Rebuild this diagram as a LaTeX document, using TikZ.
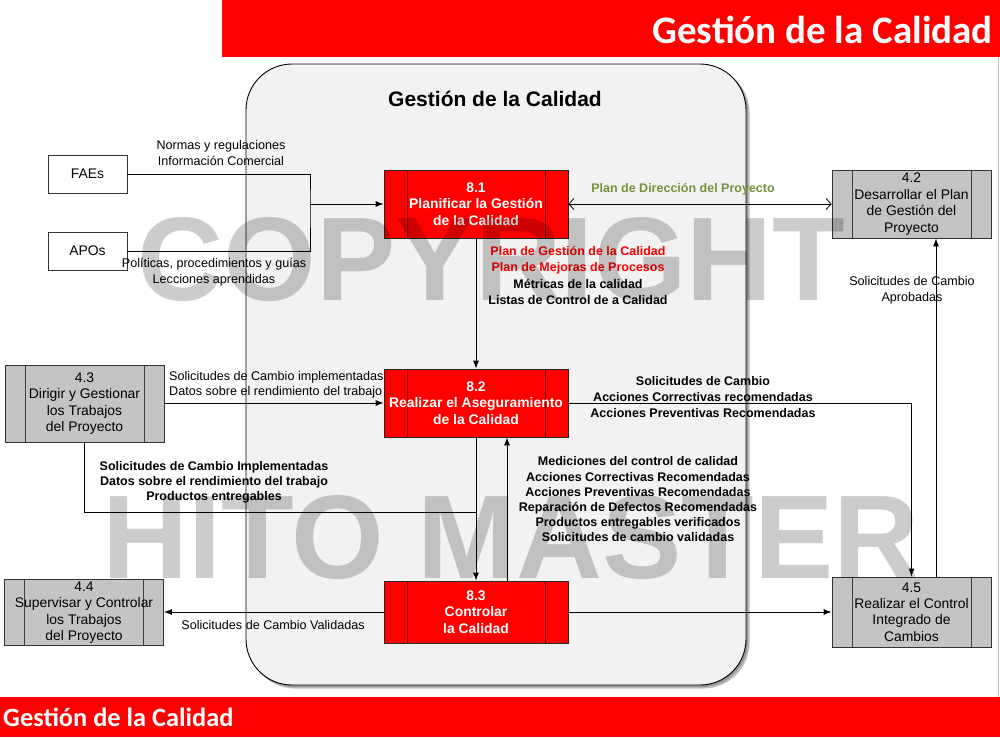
\documentclass[tikz,border=0pt]{standalone}
\usepackage{fontspec}
\setmainfont{Liberation Sans}
\newfontfamily\hdrfont{Carlito}
\usetikzlibrary{arrows.meta}
\definecolor{boxgray}{RGB}{196,196,196}
\definecolor{bggray}{RGB}{242,242,242}
\definecolor{olivegreen}{RGB}{118,146,60}
\definecolor{darkred}{RGB}{110,0,0}
\tikzset{
  redproc/.style={draw=black!85, fill=red, minimum width=184pt, minimum height=68pt, inner sep=0pt,
    align=center, text=white, font=\bfseries\fontsize{13.9}{16.5}\selectfont, line width=0.8pt,
    path picture={\draw[darkred, line width=0.9pt]
      ([xshift=23pt]path picture bounding box.north west) -- ([xshift=23pt]path picture bounding box.south west)
      ([xshift=-23pt]path picture bounding box.north east) -- ([xshift=-23pt]path picture bounding box.south east);}},
  grayproc/.style={draw=black!80, fill=boxgray, minimum width=159pt, inner sep=0pt,
    align=center, font=\fontsize{13.9}{16.4}\selectfont, line width=0.8pt,
    path picture={\draw[black!75, line width=0.8pt]
      ([xshift=20pt]path picture bounding box.north west) -- ([xshift=20pt]path picture bounding box.south west)
      ([xshift=-20pt]path picture bounding box.north east) -- ([xshift=-20pt]path picture bounding box.south east);}},
  extbox/.style={draw=black!80, fill=white, minimum width=79pt, minimum height=38pt, inner sep=0pt,
    font=\fontsize{13.9}{16}\selectfont, line width=0.8pt},
  lbl/.style={font=\fontsize{12.6}{16}\selectfont, align=center, inner sep=0pt},
  blbl/.style={font=\bfseries\fontsize{12.5}{15.2}\selectfont, align=center, inner sep=0pt},
  conn/.style={line width=0.8pt, draw=black},
  flow/.style={conn, -{Latex[length=8pt,width=6pt]}},
  wmark/.style={font=\bfseries\fontsize{119}{119}\selectfont, text=black, text opacity=0.2, inner sep=0pt},
}
\begin{document}
\begin{tikzpicture}[x=1pt,y=-1pt]
\useasboundingbox (0,0) rectangle (1000,737);
\fill[white] (0,0) rectangle (1000,737);
% header and footer bars
\fill[red] (222,0) rectangle (1000,57);
\fill[red] (0,697) rectangle (1000,737);
\draw[black!25, line width=0.8pt] (998.5,57) -- (998.5,697);
\node[font=\hdrfont\bfseries\fontsize{39}{40}\selectfont, text=white, anchor=base east, inner sep=0pt] (hdr) at (993,43) {Gestión de la Calidad};
\node[font=\hdrfont\bfseries\fontsize{26.4}{28}\selectfont, text=white, anchor=base west, inner sep=0pt] (ftr) at (3,726) {Gestión de la Calidad};
% big rounded container with shadow
\fill[black, opacity=0.25, rounded corners=46pt] (249,67) rectangle (749.5,688.5);
\fill[black, opacity=0.2, rounded corners=46pt] (247.5,65.5) rectangle (748,687);
\draw[line width=0.9pt, fill=bggray, rounded corners=46pt] (246,64) rectangle (746,685);
\node[font=\bfseries\fontsize{21}{24}\selectfont, inner sep=0pt] (title) at (495,99) {Gestión de la Calidad};
% external boxes
\node[extbox] (faes) at (87.5,174) {FAEs};
\node[extbox] (apos) at (87.5,251) {APOs};
% process boxes
\node[redproc] (p81) at (476,204) {8.1\\Planificar la Gestión\\de la Calidad};
\node[redproc] (p82) at (476,403) {8.2\\Realizar el Aseguramiento\\de la Calidad};
\node[redproc, minimum height=62pt] (p83) at (476,612) {8.3\\Controlar\\la Calidad};
\node[grayproc, minimum height=68pt] (p42) at (911.5,204) {4.2\\Desarrollar el Plan\\de Gestión del\\Proyecto};
\node[grayproc, minimum height=77pt] (p43) at (84.5,403.5) {4.3\\Dirigir y Gestionar\\los Trabajos\\del Proyecto};
\node[grayproc, minimum height=66pt] (p44) at (84,612.5) {4.4\\Supervisar y Controlar\\los Trabajos\\del Proyecto};
\node[grayproc, minimum height=70pt] (p45) at (911.5,612) {4.5\\Realizar el Control\\Integrado de\\Cambios};
% connectors
\coordinate (j1) at (310,204);
\coordinate (j2) at (476,512);
\draw[conn] (faes.east) -| (j1) |- (apos.east);
\draw[flow] (j1) -- (p81.west);
\draw[conn, {Straight Barb[length=5pt,width=11pt]}-{Straight Barb[length=5pt,width=11pt]}] (p81.east) -- (p42.west);
\draw[flow] (p81.south) -- (p82.north);
\draw[flow] (p43.east |- p82.west) -- (p82.west);
\draw[conn] (p43.south) |- (j2);
\draw[flow] (p82.south) -- (p83.north);
\draw[flow] ([xshift=31pt]p83.north) -- ([xshift=31pt]p82.south);
\draw[flow] (p82.east) -| (p45.north);
\draw[flow] ([xshift=24.5pt]p45.north) -- ([xshift=24.5pt]p42.south);
\draw[flow] (p83.west) -- (p44.east |- p83.west);
\draw[flow] (p83.east) -- (p45.west |- p83.east);
% labels
\node[lbl] (l1) at (221,153) {Normas y regulaciones\\Información Comercial};
\node[lbl] (l2) at (214,272) {Políticas, procedimientos y guías\\Lecciones aprendidas};
\node[blbl, text=olivegreen] (l3) at (683,189) {Plan de Dirección del Proyecto};
\node[blbl, font=\bfseries\fontsize{12.5}{16.3}\selectfont] (l4) at (578,275.5) {\textcolor{red}{Plan de Gestión de la Calidad}\\\textcolor{red}{Plan de Mejoras de Procesos}\\Métricas de la calidad\\Listas de Control de a Calidad};
\node[lbl] (l5) at (912,290) {Solicitudes de Cambio\\Aprobadas};
\node[lbl, align=left, anchor=west, font=\fontsize{12.6}{15.5}\selectfont] (l6) at (169,384.5) {Solicitudes de Cambio implementadas\\Datos sobre el rendimiento del trabajo};
\node[blbl] (l7) at (214,482) {Solicitudes de Cambio Implementadas\\Datos sobre el rendimiento del trabajo\\Productos entregables};
\node[blbl, font=\bfseries\fontsize{12.5}{16}\selectfont] (l8) at (703,397) {Solicitudes de Cambio\\Acciones Correctivas recomendadas\\Acciones Preventivas Recomendadas};
\node[blbl] (l9) at (638,499.5) {Mediciones del control de calidad\\Acciones Correctivas Recomendadas\\Acciones Preventivas Recomendadas\\Reparación de Defectos Recomendadas\\Productos entregables verificados\\Solicitudes de cambio validadas};
\node[lbl] (l10) at (273,625) {Solicitudes de Cambio Validadas};
% watermark
\node[wmark, anchor=base] (wm1) at (491.5,300) {COPYRIGHT};
\node[wmark, anchor=base] (wm2) at (511,578) {HITO MASTER};
\end{tikzpicture}
\end{document}
